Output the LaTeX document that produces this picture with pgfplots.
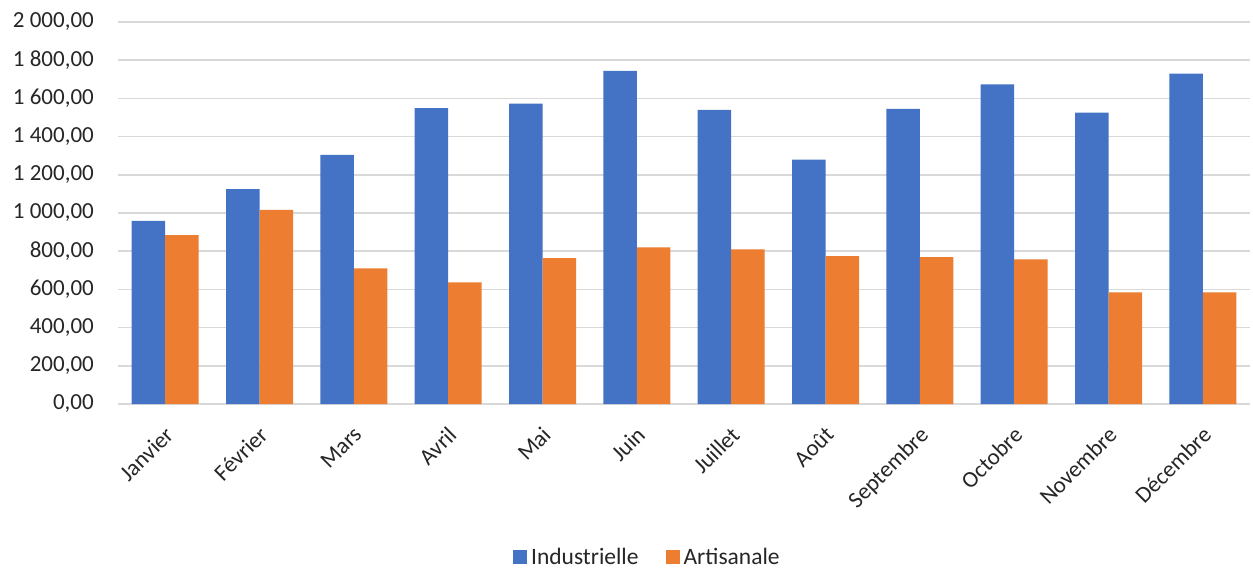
\documentclass[border=0pt]{standalone}
\usepackage{pgfplots}
\pgfplotsset{compat=1.18}
\usepackage{fontspec}
\setmainfont{Carlito}
\definecolor{cblue}{HTML}{4472C4}
\definecolor{corange}{HTML}{ED7D31}
\definecolor{cgrid}{HTML}{D9D9D9}
\begin{document}
\begin{tikzpicture}
\begin{axis}[
  name=ax,
  scale only axis,
  width=1132pt, height=382pt,
  ybar=0pt, bar width=33.5pt,
  xmin=-0.5, xmax=11.5,
  ymin=0, ymax=2000,
  axis x line*=bottom,
  axis y line*=left,
  x axis line style={cgrid, line width=1.5pt},
  y axis line style={draw=none},
  ymajorgrids, grid style={cgrid, line width=1.5pt},
  major tick length=0pt,
  xtick={0,...,11},
  xticklabels={Janvier,Février,Mars,Avril,Mai,Juin,Juillet,Août,Septembre,Octobre,Novembre,Décembre},
  ytick={0,200,...,2000},
  yticklabels={{0,00},{200,00},{400,00},{600,00},{800,00},{1 000,00},{1 200,00},{1 400,00},{1 600,00},{1 800,00},{2 000,00}},
  ticklabel style={font=\fontsize{23}{27}\selectfont, text=black!85, inner sep=0pt},
  yticklabel style={anchor=east, xshift=-24pt},
  xticklabel style={xshift=-1.5pt, yshift=-21pt, rotate=45, anchor=north east},
  legend columns=2,
  legend style={draw=none, at={(axis description cs:0.4685,-0.4)}, anchor=center,
    font=\fontsize{23.5}{27}\selectfont, text=black!85,
    nodes={inner sep=4pt},
    /tikz/every even column/.append style={column sep=23pt}},
  legend image code/.code={\fill[#1] (0pt,-7pt) rectangle (14pt,7pt);},
]
\addplot[fill=cblue, draw=none] coordinates {
(0,959) (1,1125) (2,1304) (3,1549) (4,1573) (5,1744) (6,1540) (7,1280) (8,1545) (9,1674) (10,1526) (11,1730)};
\addplot[fill=corange, draw=none] coordinates {
(0,884) (1,1017) (2,710) (3,637) (4,764) (5,820) (6,809) (7,774) (8,769) (9,757) (10,584) (11,584)};
\legend{Industrielle,Artisanale}
\end{axis}
\path[use as bounding box] ([shift={(-118pt,-163pt)}]ax.south west) rectangle ([shift={(3pt,22pt)}]ax.north east);
\end{tikzpicture}
\end{document}
